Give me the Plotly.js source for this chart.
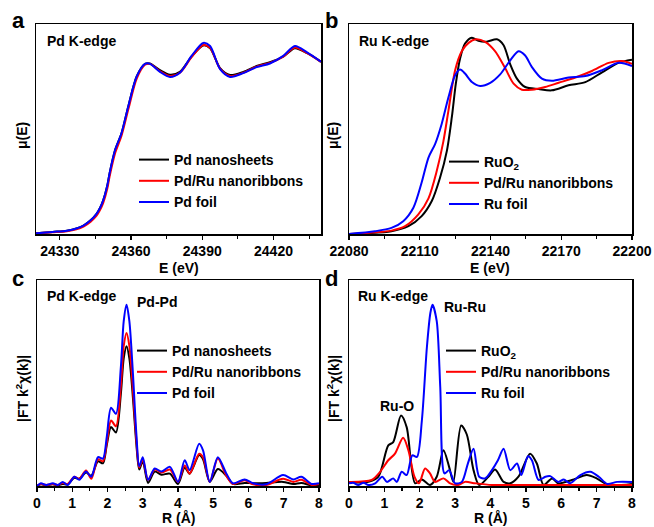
<!DOCTYPE html>
<html>
<head>
<meta charset="utf-8">
<script src="https://cdn.plot.ly/plotly-3.0.1.min.js"></script>
<style>body{margin:0;padding:0;background:#fff}#chart{width:654px;height:527px}</style>
</head>
<body>
<div id="chart"></div>
<script>
// ---------- Panel a: Pd K-edge XANES ----------
const energyA = [24320, 24327, 24333, 24337, 24340, 24343, 24345.5, 24347, 24348.3, 24350, 24351, 24353.3, 24356, 24358.9, 24362.4, 24365.9, 24368, 24372.2, 24376.4, 24380.6, 24385.5, 24390.4, 24393.3, 24397.5, 24401.7, 24407.3, 24412.9, 24418.5, 24424.1, 24429, 24434, 24440];
const pdNanosheetsA = [0.003, 0.01, 0.016, 0.026, 0.04, 0.065, 0.096, 0.125, 0.16, 0.23, 0.29, 0.40, 0.48, 0.61, 0.75, 0.81, 0.812, 0.78, 0.758, 0.772, 0.845, 0.898, 0.885, 0.79, 0.757, 0.772, 0.80, 0.818, 0.845, 0.885, 0.862, 0.82];
const pdRuNanoribbonsA = [0.003, 0.008, 0.013, 0.022, 0.035, 0.058, 0.087, 0.115, 0.148, 0.215, 0.275, 0.385, 0.468, 0.595, 0.74, 0.806, 0.81, 0.775, 0.752, 0.768, 0.842, 0.9, 0.887, 0.787, 0.752, 0.768, 0.797, 0.815, 0.845, 0.888, 0.862, 0.82];
const pdFoilA = [0.003, 0.01, 0.016, 0.026, 0.04, 0.065, 0.096, 0.125, 0.16, 0.23, 0.29, 0.40, 0.48, 0.61, 0.75, 0.81, 0.81, 0.772, 0.748, 0.768, 0.848, 0.91, 0.895, 0.785, 0.748, 0.766, 0.795, 0.812, 0.848, 0.895, 0.866, 0.82];
const ticksA = [24330, 24360, 24390, 24420];

// ---------- Panel b: Ru K-edge XANES ----------
const energyRuO2 = [22080, 22098, 22105.2, 22110.8, 22115.1, 22118.6, 22121.5, 22123.6, 22125.3, 22127.1, 22129.2, 22132.1, 22134.9, 22138.4, 22142.7, 22145.5, 22148.3, 22151.2, 22154.7, 22160.4, 22166, 22173.1, 22180.2, 22187.3, 22194.3, 22200];
const ruO2B = [0.0, 0.013, 0.037, 0.085, 0.157, 0.268, 0.396, 0.556, 0.716, 0.836, 0.907, 0.935, 0.92, 0.916, 0.927, 0.90, 0.81, 0.74, 0.70, 0.69, 0.684, 0.708, 0.723, 0.77, 0.815, 0.83];
const energyPdRu = [22080, 22098, 22103.8, 22109.4, 22113.7, 22117.2, 22120, 22122.2, 22125, 22127.8, 22130.7, 22133.8, 22137.7, 22142, 22146.2, 22149.8, 22153.3, 22157.5, 22163.2, 22168.9, 22176, 22183, 22190.1, 22195.8, 22200];
const pdRuNanoribbonsB = [0.0, 0.016, 0.037, 0.093, 0.17, 0.30, 0.44, 0.59, 0.78, 0.87, 0.91, 0.927, 0.915, 0.87, 0.79, 0.716, 0.687, 0.687, 0.70, 0.72, 0.745, 0.776, 0.815, 0.824, 0.81];
const energyRuFoil = [22080, 22091, 22098, 22103, 22107.3, 22110.8, 22113.7, 22116.5, 22119.3, 22122.2, 22125, 22127.1, 22129.2, 22132.1, 22135.6, 22139.9, 22144.1, 22148.3, 22151.9, 22154.7, 22157.5, 22161.8, 22166, 22173.1, 22180.2, 22187.3, 22194.3, 22200];
const ruFoilB = [0.0, 0.013, 0.029, 0.061, 0.125, 0.245, 0.364, 0.428, 0.524, 0.652, 0.756, 0.783, 0.764, 0.724, 0.705, 0.72, 0.76, 0.826, 0.87, 0.85, 0.796, 0.74, 0.73, 0.745, 0.752, 0.78, 0.815, 0.80];
const ticksB = [22080, 22110, 22140, 22170, 22200];

// ---------- Panel c: Pd K-edge FT-EXAFS ----------
const rC = [0, 0.11, 0.26, 0.45, 0.59, 0.73, 0.87, 1.06, 1.2, 1.39, 1.54, 1.73, 1.87, 1.98, 2.1, 2.24, 2.38, 2.46, 2.54, 2.62, 2.72, 2.82, 2.9, 3.0, 3.15, 3.34, 3.53, 3.77, 4.0, 4.19, 4.33, 4.6, 4.71, 4.9, 5.13, 5.37, 5.56, 5.89, 6.13, 6.5, 6.98, 7.27, 7.5, 7.79, 8.0];
const pdNanosheetsC = [0, 0.008, 0.003, 0.008, 0.003, 0.01, 0.008, 0.04, 0.035, 0.065, 0.05, 0.12, 0.11, 0.2, 0.286, 0.26, 0.45, 0.62, 0.679, 0.62, 0.43, 0.2, 0.08, 0.12, 0.015, 0.07, 0.055, 0.06, 0.01, 0.09, 0.06, 0.15, 0.13, 0.02, 0.082, 0.05, 0.01, 0.015, 0.013, 0.015, 0.02, 0.01, 0.015, 0.003, 0.005];
const pdRuNanoribbonsC = [0, 0.01, 0.005, 0.01, 0.005, 0.015, 0.01, 0.045, 0.035, 0.075, 0.035, 0.13, 0.12, 0.21, 0.318, 0.29, 0.49, 0.68, 0.743, 0.68, 0.47, 0.22, 0.09, 0.13, 0.03, 0.08, 0.065, 0.08, 0.02, 0.1, 0.06, 0.157, 0.14, 0.02, 0.133, 0.05, 0.01, 0.028, 0.008, 0.005, 0.035, 0.02, 0.03, 0.005, 0.01];
const pdFoilC = [0, 0.013, 0.005, 0.013, 0.005, 0.02, 0.005, 0.045, 0.03, 0.07, 0.045, 0.14, 0.133, 0.24, 0.38, 0.35, 0.58, 0.8, 0.88, 0.8, 0.55, 0.25, 0.096, 0.14, 0.03, 0.085, 0.07, 0.093, 0.02, 0.125, 0.077, 0.205, 0.173, 0.02, 0.14, 0.061, 0.013, 0.032, 0.013, 0.008, 0.053, 0.032, 0.045, 0.01, 0.013];
const ticksR = [0, 1, 2, 3, 4, 5, 6, 7, 8];

// ---------- Panel d: Ru K-edge FT-EXAFS ----------
const rRuO2 = [0, 0.55, 0.83, 1.11, 1.25, 1.47, 1.63, 1.87, 2.06, 2.29, 2.48, 2.67, 2.83, 2.95, 3.17, 3.33, 3.52, 3.68, 3.94, 4.13, 4.37, 4.56, 4.79, 5.12, 5.31, 5.5, 5.74, 5.92, 6.3, 6.72, 7.0, 7.33, 8];
const ruO2D = [0.02, 0.02, 0.045, 0.197, 0.213, 0.342, 0.286, 0.013, 0.032, 0.005, 0.045, 0.173, 0.093, 0.02, 0.294, 0.25, 0.077, 0.005, 0.045, 0.08, 0.02, 0.013, 0.045, 0.157, 0.109, 0.005, 0.037, 0.013, 0.029, 0.053, 0.037, 0.005, 0.01];
const rPdRu = [0, 0.64, 0.88, 1.11, 1.3, 1.53, 1.68, 1.85, 1.98, 2.15, 2.29, 2.43, 2.67, 2.86, 3.09, 3.28, 3.57, 4.04, 5, 6, 7, 8];
const pdRuNanoribbonsD = [0.02, 0.029, 0.069, 0.125, 0.157, 0.234, 0.173, 0.045, 0.013, 0.085, 0.061, 0.02, 0.037, 0.013, 0.005, 0.02, 0.013, 0.005, 0.005, 0.005, 0.005, 0.005];
const rRuFoil = [0, 0.12, 0.26, 0.41, 0.55, 0.74, 0.94, 1.07, 1.25, 1.35, 1.49, 1.63, 1.79, 1.92, 2.06, 2.2, 2.3, 2.36, 2.48, 2.58, 2.7, 2.83, 3.0, 3.19, 3.36, 3.52, 3.68, 3.85, 4.04, 4.21, 4.37, 4.56, 4.75, 4.87, 5.06, 5.17, 5.36, 5.55, 5.69, 5.92, 6.07, 6.25, 6.54, 6.82, 7.06, 7.3, 7.58, 8];
const ruFoilD = [0.013, 0.016, 0.005, 0.016, 0.005, 0.013, 0.045, 0.02, 0.037, 0.02, 0.069, 0.053, 0.149, 0.141, 0.318, 0.67, 0.84, 0.88, 0.80, 0.478, 0.061, 0.077, 0.013, 0.02, 0.109, 0.181, 0.045, 0.037, 0.077, 0.125, 0.181, 0.077, 0.109, 0.053, 0.144, 0.125, 0.029, 0.045, 0.048, 0.02, 0.032, 0.013, 0.053, 0.069, 0.045, 0.01, 0.02, 0.02];

// ---------- Layout helpers ----------
const W = 654, H = 527;
const px = x => x / W;
const py = y => 1 - y / H;
const FONT = 'Liberation Sans, Arial, sans-serif';
const BLACK = '#000000', RED = '#ff0000', BLUE = '#0000ff';

function line(x, y, name, color, xa, ya, leg) {
  return {x: x, y: y, name: name, xaxis: xa, yaxis: ya, legend: leg, type: 'scatter', mode: 'lines',
          line: {color: color, width: 2, shape: 'spline', smoothing: 0.8}, hoverinfo: 'skip'};
}

const traces = [
  line(energyA, pdNanosheetsA, 'Pd nanosheets', BLACK, 'x', 'y', 'legend'),
  line(energyA, pdRuNanoribbonsA, 'Pd/Ru nanoribbons', RED, 'x', 'y', 'legend'),
  line(energyA, pdFoilA, 'Pd foil', BLUE, 'x', 'y', 'legend'),
  line(energyRuO2, ruO2B, 'RuO<sub>2</sub>', BLACK, 'x2', 'y2', 'legend2'),
  line(energyPdRu, pdRuNanoribbonsB, 'Pd/Ru nanoribbons', RED, 'x2', 'y2', 'legend2'),
  line(energyRuFoil, ruFoilB, 'Ru foil', BLUE, 'x2', 'y2', 'legend2'),
  line(rC, pdNanosheetsC, 'Pd nanosheets', BLACK, 'x3', 'y3', 'legend3'),
  line(rC, pdRuNanoribbonsC, 'Pd/Ru nanoribbons', RED, 'x3', 'y3', 'legend3'),
  line(rC, pdFoilC, 'Pd foil', BLUE, 'x3', 'y3', 'legend3'),
  line(rRuO2, ruO2D, 'RuO<sub>2</sub>', BLACK, 'x4', 'y4', 'legend4'),
  line(rPdRu, pdRuNanoribbonsD, 'Pd/Ru nanoribbons', RED, 'x4', 'y4', 'legend4'),
  line(rRuFoil, ruFoilD, 'Ru foil', BLUE, 'x4', 'y4', 'legend4')
];

function xaxis(domain, range, tickvals, anchor, minorStep, tick0) {
  return {domain: domain, range: range, anchor: anchor, tickmode: 'array', tickvals: tickvals,
          ticktext: tickvals.map(String), showline: true, mirror: true, linecolor: '#000', linewidth: 1.5,
          ticks: 'outside', ticklen: 4, tickwidth: 1.3, tickcolor: '#000', showgrid: false, zeroline: false,
          tickfont: {family: FONT, size: 14, color: '#000', weight: 'bold'},
          minor: {tick0: tick0, dtick: minorStep, ticks: 'outside', ticklen: 3, tickwidth: 1.2, tickcolor: '#000', showgrid: false}};
}
function yaxis(domain, range, anchor) {
  return {domain: domain, range: range, anchor: anchor, showline: true, mirror: true, linecolor: '#000', linewidth: 1.5,
          ticks: '', showticklabels: false, showgrid: false, zeroline: false};
}

function legendAt(x, y) {
  return {x: px(x), y: py(y), xanchor: 'left', yanchor: 'top', bgcolor: 'rgba(0,0,0,0)', borderwidth: 0,
          font: {family: FONT, size: 14, color: '#000', weight: 'bold'}, tracegroupgap: 0, itemwidth: 30};
}

function ann(text, x, y, size, opts) {
  return Object.assign({text: text, x: px(x), y: py(y), xref: 'paper', yref: 'paper', showarrow: false,
          xanchor: 'center', yanchor: 'middle', font: {family: FONT, size: size, color: '#000', weight: 'bold'}}, opts || {});
}

const annotations = [
  ann('a', 18, 20, 22), ann('b', 331, 20, 22), ann('c', 18, 278, 22), ann('d', 331, 278, 22),
  ann('Pd K-edge', 45, 41, 14, {xanchor: 'left'}),
  ann('Ru K-edge', 357, 41, 14, {xanchor: 'left'}),
  ann('Pd K-edge', 45, 296, 14, {xanchor: 'left'}),
  ann('Pd-Pd', 135, 302, 14, {xanchor: 'left'}),
  ann('Ru K-edge', 356, 296, 14, {xanchor: 'left'}),
  ann('Ru-Ru', 442, 307, 14, {xanchor: 'left'}),
  ann('Ru-O', 378, 406, 14, {xanchor: 'left'}),
  ann('E (eV)', 179, 268, 14), ann('E (eV)', 490, 268, 14),
  ann('R (Å)', 178, 527, 14, {yanchor: 'bottom', borderpad: 0}),
  ann('R (Å)', 490, 527, 14, {yanchor: 'bottom', borderpad: 0}),
  ann('μ(E)', 22, 135, 14, {textangle: -90}),
  ann('μ(E)', 333, 135, 14, {textangle: -90}),
  ann('|FT k<sup>2</sup>χ(k)|', 22, 388, 14, {textangle: -90}),
  ann('|FT k<sup>2</sup>χ(k)|', 333, 388, 14, {textangle: -90})
];

const layout = {
  width: W, height: H, margin: {l: 0, r: 0, t: 0, b: 0}, paper_bgcolor: '#fff', plot_bgcolor: '#fff',
  font: {family: FONT, color: '#000'},
  xaxis: xaxis([px(36), px(321)], [24320, 24440], ticksA, 'y', 15, 24330),
  yaxis: yaxis([py(234), py(24)], [0, 1], 'x'),
  xaxis2: xaxis([px(349), px(632)], [22080, 22200], ticksB, 'y2', 15, 22080),
  yaxis2: yaxis([py(234), py(24)], [0, 1], 'x2'),
  xaxis3: xaxis([px(37), px(319)], [0, 8], ticksR, 'y3', 0.5, 0),
  yaxis3: yaxis([py(486), py(280)], [0, 1], 'x3'),
  xaxis4: xaxis([px(349), px(632)], [0, 8], ticksR, 'y4', 0.5, 0),
  yaxis4: yaxis([py(486), py(280)], [0, 1], 'x4'),
  legend: legendAt(134, 144),
  legend2: legendAt(444, 146),
  legend3: legendAt(132, 335),
  legend4: legendAt(441, 335),
  annotations: annotations,
  showlegend: true
};

Plotly.newPlot('chart', traces, layout, {displayModeBar: false, staticPlot: true});
</script>
</body>
</html>
